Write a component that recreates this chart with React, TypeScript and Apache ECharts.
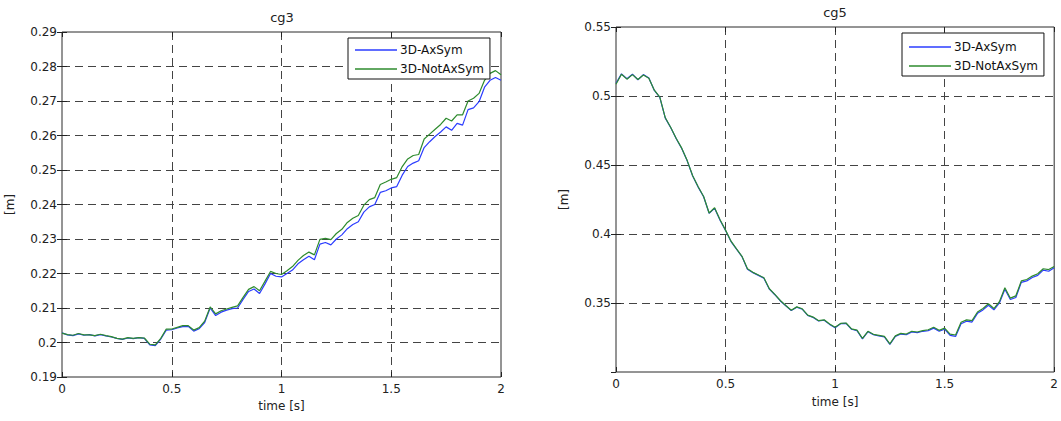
import React, { useEffect, useRef } from "react";
import * as echarts from "echarts";

const TIME_STEP = 0.025;
const X_TICKS = [0, 0.5, 1, 1.5, 2];
const SERIES_NAMES = ["3D-AxSym", "3D-NotAxSym"];

const cg3AxSym = [
  0.2028, 0.2022, 0.2020, 0.2025, 0.2021, 0.2023, 0.2019, 0.2023, 0.2019, 0.2016,
  0.2012, 0.2009, 0.2013, 0.2011, 0.2014, 0.2012, 0.1993, 0.1991, 0.2010, 0.2036,
  0.2037, 0.2042, 0.2046, 0.2047, 0.2033, 0.2040, 0.2058, 0.2100, 0.2078, 0.2088,
  0.2094, 0.2098, 0.2100, 0.2125, 0.2148, 0.2155, 0.2142, 0.2170, 0.2200, 0.2192,
  0.2190, 0.2200, 0.2210, 0.2228, 0.2240, 0.2250, 0.2240, 0.2285, 0.2290, 0.2283,
  0.2300, 0.2312, 0.2330, 0.2342, 0.2350, 0.2378, 0.2393, 0.2400, 0.2435, 0.2440,
  0.2448, 0.2452, 0.2485, 0.2510, 0.2520, 0.2527, 0.2565, 0.2582, 0.2597, 0.2610,
  0.2625, 0.2615, 0.2635, 0.2630, 0.2675, 0.2680, 0.2698, 0.2740, 0.2760, 0.2768,
  0.2760,
];

const cg3NotAxSym = [
  0.2027, 0.2023, 0.2021, 0.2026, 0.2022, 0.2022, 0.2020, 0.2024, 0.2020, 0.2017,
  0.2012, 0.2010, 0.2014, 0.2012, 0.2014, 0.2013, 0.1995, 0.1993, 0.2012, 0.2039,
  0.2039, 0.2044, 0.2049, 0.2049, 0.2036, 0.2043, 0.2062, 0.2103, 0.2083, 0.2092,
  0.2097, 0.2102, 0.2106, 0.2131, 0.2154, 0.2162, 0.2150, 0.2178, 0.2206, 0.2200,
  0.2197, 0.2208, 0.2220, 0.2238, 0.2252, 0.2262, 0.2254, 0.2299, 0.2302, 0.2298,
  0.2316, 0.2328, 0.2348, 0.2360, 0.2368, 0.2398, 0.2414, 0.2420, 0.2458, 0.2465,
  0.2473, 0.2478, 0.2510, 0.2532, 0.2542, 0.2545, 0.2590, 0.2604, 0.2618, 0.2632,
  0.2650, 0.2642, 0.2660, 0.2660, 0.2700, 0.2708, 0.2722, 0.2760, 0.2780, 0.2788,
  0.2776,
];

const cg5AxSym = [
  0.5092, 0.5160, 0.5125, 0.5158, 0.5118, 0.5155, 0.5130, 0.5040, 0.4990, 0.4840,
  0.4770, 0.4690, 0.4620, 0.4530, 0.4420, 0.4340, 0.4270, 0.4150, 0.4186, 0.4100,
  0.4025, 0.3945, 0.3890, 0.3836, 0.3745, 0.3720, 0.3700, 0.3680, 0.3600, 0.3560,
  0.3515, 0.3480, 0.3445, 0.3470, 0.3455, 0.3410, 0.3395, 0.3370, 0.3375, 0.3345,
  0.3320, 0.3350, 0.3352, 0.3310, 0.3300, 0.3240, 0.3292, 0.3270, 0.3262, 0.3255,
  0.3200, 0.3258, 0.3275, 0.3270, 0.3290, 0.3285, 0.3295, 0.3300, 0.3318, 0.3295,
  0.3310, 0.3265, 0.3258, 0.3350, 0.3368, 0.3362, 0.3425, 0.3450, 0.3484, 0.3450,
  0.3500, 0.3600, 0.3525, 0.3540, 0.3650, 0.3660, 0.3685, 0.3700, 0.3738, 0.3730,
  0.3755,
];

const cg5NotAxSym = [
  0.5085, 0.5158, 0.5122, 0.5155, 0.5120, 0.5152, 0.5128, 0.5042, 0.4992, 0.4842,
  0.4772, 0.4692, 0.4622, 0.4532, 0.4422, 0.4342, 0.4272, 0.4152, 0.4190, 0.4103,
  0.4028, 0.3948, 0.3892, 0.3838, 0.3748, 0.3722, 0.3703, 0.3683, 0.3603, 0.3562,
  0.3518, 0.3482, 0.3448, 0.3472, 0.3458, 0.3412, 0.3398, 0.3372, 0.3378, 0.3348,
  0.3324, 0.3352, 0.3355, 0.3312, 0.3303, 0.3243, 0.3295, 0.3273, 0.3266, 0.3258,
  0.3204, 0.3262, 0.3280, 0.3275, 0.3295, 0.3290, 0.3300, 0.3306, 0.3324, 0.3302,
  0.3318, 0.3274, 0.3268, 0.3360, 0.3378, 0.3372, 0.3435, 0.3460, 0.3494, 0.3460,
  0.3510, 0.3610, 0.3535, 0.3552, 0.3660, 0.3670, 0.3695, 0.3712, 0.3748, 0.3742,
  0.3765,
];

const FONT = "DejaVu Sans";
const TEXT_COLOR = "#222";
const BLUE = "#2b3cff";
const GREEN = "#2e8b2e";

function pairs(values: number[]) {
  return values.map((v, i) => [+(i * TIME_STEP).toFixed(3), v]);
}

export default function App() {
  const ref = useRef<HTMLDivElement>(null);

  useEffect(() => {
    document.body.style.margin = "0";
    const chart = echarts.init(ref.current!, undefined, { renderer: "svg" });

    const grids = [
      { left: 62, top: 32, width: 439, height: 345 },
      { left: 616, top: 27, width: 439, height: 345 },
    ];

    const dashed = { color: "#444", type: [8, 5], width: 1 };

    const xMain = (gi: number) => ({
      type: "value",
      gridIndex: gi,
      min: X_TICKS[0],
      max: X_TICKS[X_TICKS.length - 1],
      interval: 0.5,
      name: "time [s]",
      nameLocation: "middle",
      nameGap: gi === 0 ? 23 : 24,
      nameTextStyle: { fontFamily: FONT, fontSize: 12, color: TEXT_COLOR },
      axisLine: { show: false },
      axisTick: { show: true, inside: true, length: 5, lineStyle: { color: TEXT_COLOR } },
      axisLabel: { fontFamily: FONT, fontSize: 12, color: TEXT_COLOR, margin: 6 },
      splitLine: { show: true, showMinLine: false, showMaxLine: false, lineStyle: dashed },
    });
    const xTop = (gi: number) => ({
      type: "value",
      gridIndex: gi,
      position: "top",
      min: 0,
      max: 2,
      interval: 0.5,
      axisLine: { show: false },
      axisTick: { show: true, inside: true, length: 5, lineStyle: { color: TEXT_COLOR } },
      axisLabel: { show: false },
      splitLine: { show: false },
    });
    const yMain = (gi: number, min: number, max: number, interval: number, showMin: boolean) => ({
      type: "value",
      gridIndex: gi,
      min,
      max,
      interval,
      name: "[m]",
      nameLocation: "middle",
      nameGap: 46,
      nameRotate: 90,
      nameTextStyle: { fontFamily: FONT, fontSize: 12, color: TEXT_COLOR },
      axisLine: { show: false },
      axisTick: { show: true, inside: true, length: 5, lineStyle: { color: TEXT_COLOR } },
      axisLabel: {
        fontFamily: FONT,
        fontSize: 12,
        color: TEXT_COLOR,
        margin: 5,
        showMinLabel: showMin,
      },
      splitLine: { show: true, showMinLine: false, showMaxLine: false, lineStyle: dashed },
    });
    const yRight = (gi: number, min: number, max: number, interval: number) => ({
      type: "value",
      gridIndex: gi,
      position: "right",
      min,
      max,
      interval,
      axisLine: { show: false },
      axisTick: { show: true, inside: true, length: 5, lineStyle: { color: TEXT_COLOR } },
      axisLabel: { show: false },
      splitLine: { show: false },
    });

    const line = (name: string, data: number[], xi: number, yi: number, color: string, z: number) => ({
      type: "line",
      name,
      xAxisIndex: xi,
      yAxisIndex: yi,
      data: pairs(data),
      symbol: "none",
      showSymbol: false,
      z,
      lineStyle: { color, width: 1.2 },
      itemStyle: { color },
    });

    const legend = (left: number, top: number, padding: number[]) => ({
      data: SERIES_NAMES.map((n) => ({ name: n, icon: "rect" })),
      orient: "vertical",
      left,
      top,
      padding,
      itemGap: 5,
      itemWidth: 42,
      itemHeight: 1.5,
      backgroundColor: "#fff",
      borderColor: "#111",
      borderWidth: 1,
      borderRadius: 0,
      selectedMode: false,
      textStyle: {
        fontFamily: FONT,
        fontSize: 12,
        color: "#111",
        lineHeight: 14,
        padding: [0, 0, 0, -2],
      },
    });

    chart.setOption({
      animation: false,
      backgroundColor: "#fff",
      textStyle: { fontFamily: FONT },
      grid: grids.map((g) => ({
        ...g,
        show: true,
        borderColor: "#2a2a2a",
        borderWidth: 1,
        backgroundColor: "#fff",
      })),
      xAxis: [xMain(0), xTop(0), xMain(1), xTop(1)],
      yAxis: [
        yMain(0, 0.19, 0.29, 0.01, true),
        yRight(0, 0.19, 0.29, 0.01),
        yMain(1, 0.3, 0.55, 0.05, false),
        yRight(1, 0.3, 0.55, 0.05),
      ],
      legend: [legend(348, 38, [5, 6, 3, 7]), legend(902, 33, [7, 6, 3, 7])],
      graphic: [
        {
          type: "text",
          x: 282,
          y: 17,
          style: {
            text: "cg3",
            align: "center",
            verticalAlign: "middle",
            font: `13px "${FONT}"`,
            fill: TEXT_COLOR,
          },
        },
        {
          type: "text",
          x: 835,
          y: 12,
          style: {
            text: "cg5",
            align: "center",
            verticalAlign: "middle",
            font: `13px "${FONT}"`,
            fill: TEXT_COLOR,
          },
        },
      ],
      series: [
        line(SERIES_NAMES[0], cg3AxSym, 0, 0, BLUE, 2),
        line(SERIES_NAMES[1], cg3NotAxSym, 0, 0, GREEN, 3),
        line(SERIES_NAMES[0], cg5AxSym, 2, 2, BLUE, 2),
        line(SERIES_NAMES[1], cg5NotAxSym, 2, 2, GREEN, 3),
      ],
    });

    return () => chart.dispose();
  }, []);

  return <div ref={ref} style={{ width: 1061, height: 421 }} />;
}
